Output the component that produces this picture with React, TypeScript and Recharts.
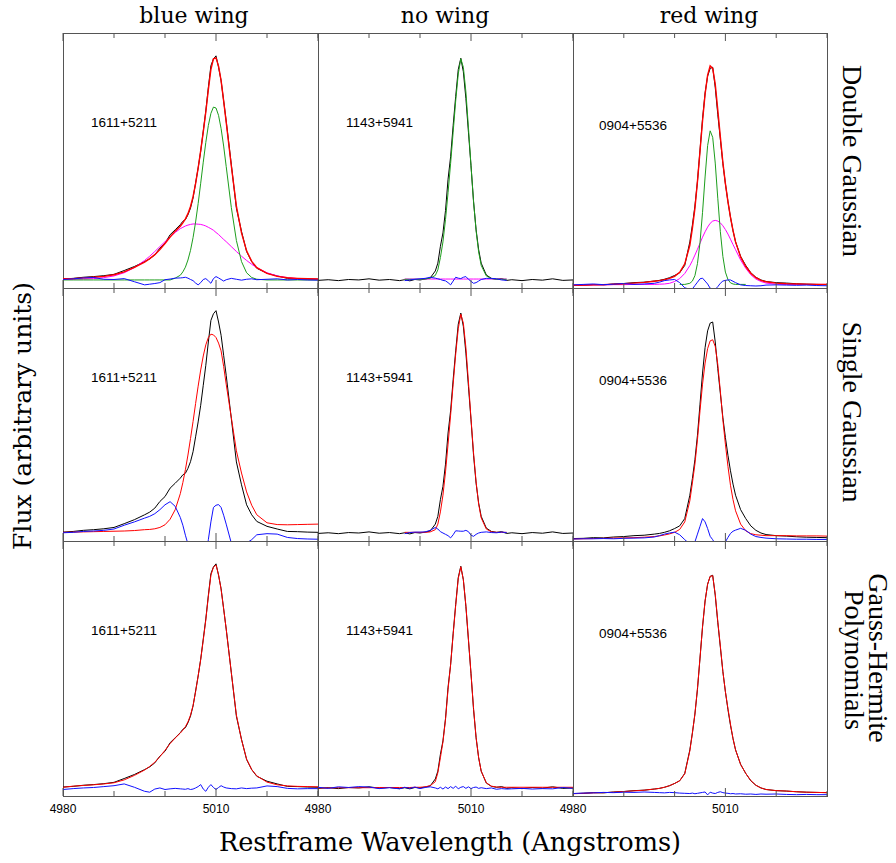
import React from 'react';
import { LineChart, Line, XAxis, YAxis } from 'recharts';

const N = null;

// wavelength grid (Angstroms), finer across the line core
const WAVE = [
  4980, 4982, 4984, 4986, 4988, 4990, 4992, 4994, 4996, 4997, 4998, 4999, 5000, 5001, 5002, 5003,
  5003.5, 5004, 5004.5, 5005, 5005.5, 5006, 5006.5, 5007, 5007.5, 5008, 5008.5, 5009, 5009.5, 5010,
  5010.5, 5011, 5011.5, 5012, 5013, 5014, 5015, 5016, 5017, 5018, 5020, 5022, 5024, 5026, 5028, 5030,
];
const X_TICKS = [4980, 4990, 5000, 5010, 5020, 5030];
const LABELED_TICKS = [4980, 5010];
const Y_DOMAIN = [-3.6, 110.3];

const COLUMN_TITLES = ['blue wing', 'no wing', 'red wing'];
const OBJECT_NAMES = ['1611+5211', '1143+5941', '0904+5536'];

// ---- 1611+5211 (blue wing) ----
const FLUX_1611 = [0.4, 0.7, 1.2, 1.5, 1.9, 2.5, 4.2, 6.0, 8.2, 9.4, 11.2, 14.2, 16.4, 20.2, 22.4, 24.7, 26.2, 26.9, 29.1, 32.1, 36.6, 43.3, 50.0, 57.5, 66.5, 75.5, 86.0, 95.7, 98.7, 100.1, 95.0, 89.0, 80.0, 71.0, 51.6, 32.0, 21.7, 12.7, 8.2, 5.2, 3.0, 1.8, 0.7, 0.6, 0.4, 0.3];
const DG_FIT_1611 = [0.5, 0.6, 0.9, 1.2, 1.6, 2.3, 3.6, 5.6, 8.0, 9.5, 11.3, 13.6, 16.3, 19.2, 21.8, 24.0, 25.5, 27.3, 29.6, 32.8, 37.2, 43.0, 50.0, 57.8, 66.0, 75.0, 85.0, 94.0, 98.8, 99.2, 95.5, 89.0, 80.0, 70.5, 51.0, 33.0, 21.0, 13.0, 8.3, 5.5, 2.9, 1.6, 1.0, 0.7, 0.5, 0.4];
const DG_NARROW_1611 = [0, 0, 0, 0, 0, 0, 0, 0, 0, 0, 0, 0, 0, 0, 0.8, 2.1, 3.6, 5.7, 8.9, 13.2, 18.9, 25.9, 34.1, 43.2, 52.6, 61.4, 69.0, 74.4, 77.2, 76.8, 73.5, 67.6, 59.8, 50.7, 32.4, 17.6, 8.2, 3.2, 1.1, 0.3, 0, 0, 0, 0, 0, 0];
const DG_BROAD_1611 = [0.3, 0.3, 0.4, 0.6, 1.0, 1.8, 3.2, 5.5, 8.7, 10.6, 12.7, 14.9, 17.1, 19.2, 21.2, 22.9, 23.5, 24.1, 24.5, 24.8, 25.0, 25.0, 24.9, 24.8, 24.5, 24.1, 23.5, 22.9, 22.2, 21.2, 20.3, 19.2, 18.1, 17.1, 14.9, 12.7, 10.6, 8.7, 7.0, 5.5, 3.2, 1.8, 1.0, 0.6, 0.4, 0.3];
const DG_RESID_1611 = [0.2, 0.5, 0.9, 1.1, 0.3, 0.2, 0.6, -0.8, -2.2, -1.9, -1.6, -1.2, 0.1, 0.4, 0.8, 0.9, 1.0, 1.2, 0.8, 0.2, -0.3, -1.4, -2.2, -1.2, 0.2, 0.6, -0.4, -1.5, 0.6, 1.5, 0.9, 0.2, -0.5, 0.1, 0.7, 0.3, -0.1, 0.3, 0.5, 0.1, 0.3, 0.5, 0.0, 0.2, 0.0, -0.1];
const SG_FIT_1611 = [0.3, 0.4, 0.5, 0.6, 0.7, 0.8, 0.9, 1.1, 1.5, 1.6, 1.9, 2.5, 3.7, 6.2, 10.5, 17.7, 22.7, 28.5, 35.1, 42.5, 50.2, 58.3, 66.1, 73.4, 79.7, 84.7, 88.0, 89.5, 89.2, 88.0, 85.5, 82.0, 75.0, 67.0, 52.0, 37.0, 27.0, 18.5, 12.5, 8.2, 4.6, 3.8, 3.7, 3.8, 3.9, 4.0];
const SG_RESID_1611 = [0.1, 0.3, 0.7, 0.9, 1.2, 1.8, 3.5, 5.0, 6.7, 7.5, 8.7, 10.5, 12.7, 14.1, 12.0, 7.0, 3.5, -1.0, -5, -10, -14, -15, -16, -16, -13, -10, -3, 5, 11.5, 12.5, 12.8, 11.5, 8, 4, -4.5, -7, -6, -4.5, -3, -0.8, -0.3, -0.5, -2.0, -2.5, -2.7, -2.8];
const GH_FIT_1611 = [0.3, 0.8, 1.1, 1.4, 1.8, 2.3, 3.6, 5.6, 8.0, 9.6, 11.5, 14.0, 16.8, 19.8, 22.3, 24.5, 25.8, 27.4, 29.5, 32.5, 36.8, 43.0, 50.0, 57.3, 66.0, 75.0, 85.5, 95.0, 98.6, 99.6, 95.2, 88.6, 80.0, 71.0, 51.5, 32.6, 21.5, 12.9, 8.2, 5.4, 2.6, 1.4, 0.9, 0.7, 0.6, 0.5];
const GH_RESID_1611 = [-0.7, -0.3, 0.0, 0.2, 0.6, 1.0, 1.8, 0.3, -1.5, -1.9, -0.5, 0.0, -0.7, -0.4, -0.2, -0.4, -0.5, -0.6, -0.3, -0.7, -0.5, 0.0, 0.6, 1.5, -0.5, -1.5, 0.3, 1.5, 0.2, -0.7, 0.2, 1.0, 0.4, 0.0, -0.3, -0.4, 0.0, -0.3, -0.1, 0.0, 0.9, 0.6, -0.2, -0.4, -0.3, -0.3];

// ---- 1143+5941 (no wing) ----
const FLUX_1143 = [-0.2, 0.1, -0.3, 0.2, 0.0, 0.5, -0.1, 0.2, -0.3, 0.1, -0.4, 0.2, 0.0, 0.4, 0.9, 4.0, 7.5, 15.0, 21.0, 31.0, 45.0, 55.0, 69.0, 82.0, 94.0, 99.0, 93.0, 81.0, 66.0, 51.0, 35.0, 22.4, 13.5, 7.5, 2.2, 0.7, 0.3, 0.6, -0.2, 0.1, -0.3, 0.2, -0.1, 0.5, -0.2, 0.0];
const DG_NARROW_1143 = [N, N, N, N, N, N, N, N, N, 0.3, 0.3, 0.3, 0.3, 0.4, 0.8, 2.0, 4.5, 10.0, 17.0, 27.0, 39.0, 52.0, 66.0, 80.0, 92.0, 98.8, 95.0, 84.0, 68.0, 51.0, 35.0, 22.0, 12.5, 6.5, 1.8, 0.6, 0.3, 0.3, 0.3, N, N, N, N, N, N, N];
const DG_BROAD_1143 = [N, N, N, N, N, N, N, N, N, 0.4, 0.4, 0.4, 0.4, 0.4, 0.4, 0.4, 0.4, 0.4, 0.4, 0.4, 0.4, 0.4, 0.4, 0.4, 0.4, 0.4, 0.4, 0.4, 0.4, 0.4, 0.4, 0.4, 0.4, 0.4, 0.4, 0.4, 0.4, 0.4, 0.4, N, N, N, N, N, N, N];
const DG_RESID_1143 = [N, N, N, N, N, N, N, N, N, -0.3, 0.0, 0.3, 0.5, 0.7, 1.2, 0.8, 0.5, 0.2, -0.2, -0.4, -1.2, -2.2, -0.5, 1.2, 0.8, 0.6, 1.2, 1.5, 0.3, -0.6, -1.5, -1.2, -0.5, 0.2, 0.7, 0.7, 0.5, 0.0, -0.2, N, N, N, N, N, N, N];
const SG_FIT_1143 = [N, N, N, N, N, N, N, N, N, 0.3, 0.3, 0.3, 0.3, 0.3, 0.5, 1.5, 4.0, 9.5, 17.0, 27.5, 40.0, 53.0, 67.0, 80.5, 92.0, 98.5, 94.5, 83.5, 68.0, 51.5, 36.0, 23.0, 13.0, 6.8, 1.8, 0.5, 0.3, 0.3, 0.3, N, N, N, N, N, N, N];
const SG_RESID_1143 = [N, N, N, N, N, N, N, N, N, -0.3, 0.2, 0.4, 0.4, 0.5, 1.2, 2.5, 1.8, 0.6, 0.0, -0.6, -1.2, -2.2, -0.8, 1.0, 0.9, 0.8, 0.8, 1.2, 0.6, -1.0, -1.5, -0.6, 0.0, 0.3, 0.5, 0.2, 0.1, 0.4, 0.2, N, N, N, N, N, N, N];
const GH_FIT_1143 = [0.0, 0.0, 0.1, 0.1, 0.1, 0.1, 0.2, 0.2, 0.2, 0.2, 0.2, 0.3, 0.3, 0.5, 1.0, 2.8, 6.8, 13.5, 20.5, 30.5, 44.0, 55.0, 68.5, 81.5, 93.5, 98.8, 93.0, 81.5, 66.5, 51.0, 35.5, 22.5, 13.5, 7.5, 2.3, 0.8, 0.4, 0.3, 0.3, 0.3, 0.3, 0.3, 0.3, 0.3, 0.3, 0.3];
const GH_RESID_1143 = [0.3, -0.2, 0.5, 0.2, 0.6, 0.4, -0.3, 0.1, -0.4, 0.3, -0.2, 0.4, -0.3, 0.2, 0.5, 0.0, -0.4, 0.3, -0.5, 0.4, -0.3, 0.6, -0.2, 0.8, -0.4, 0.3, 0.6, -0.2, 0.5, -0.3, 0.2, 0.4, -0.2, 0.1, -0.3, 0.0, -0.6, -0.3, -0.5, -0.4, -0.2, -0.5, -0.3, -0.4, 0.2, -0.2];

// ---- 0904+5536 (red wing) ----
const FLUX_0904 = [-2.5, -2.4, -2.1, -2.2, -1.8, -1.6, -1.2, -1.0, -0.5, -0.2, 0.3, 1.0, 2.0, 3.2, 6.5, 17.0, 24.5, 33.0, 44.0, 58.0, 72.0, 83.5, 91.0, 94.5, 95.0, 86.0, 74.0, 63.0, 52.0, 43.0, 35.0, 28.0, 22.0, 17.0, 10.5, 6.5, 3.2, 1.2, 0.0, -0.7, -1.2, -1.4, -1.7, -1.9, -2.0, -2.1];
const DG_FIT_0904 = [-2.4, -2.3, -2.2, -2.1, -1.9, -1.7, -1.4, -1.1, -0.6, -0.3, 0.1, 0.7, 1.6, 3.4, 7.2, 15.5, 23.0, 32.0, 44.0, 57.5, 71.0, 83.0, 91.5, 95.6, 94.5, 87.5, 76.0, 64.0, 52.5, 43.0, 35.0, 28.0, 22.0, 17.0, 10.2, 6.0, 3.0, 1.0, -0.2, -0.8, -1.4, -1.7, -1.8, -1.9, -2.0, -2.0];
const DG_NARROW_0904 = [N, N, N, N, N, N, N, N, N, N, N, N, N, -2.0, -2.0, -1.5, -0.5, 1.9, 7.3, 16.7, 30.2, 46.0, 60.0, 66.6, 63.7, 52.2, 36.5, 21.7, 10.5, 3.5, 0.2, -1.3, -1.8, -2.0, -2.0, -2.0, N, N, N, N, N, N, N, N, N, N];
const DG_BROAD_0904 = [-2.3, -2.3, -2.2, -2.2, -2.1, -2.1, -2.0, -2.0, -2.0, -1.9, -1.8, -1.5, -0.7, 0.6, 2.9, 6.4, 8.6, 11.1, 13.7, 16.4, 19.1, 21.5, 23.6, 25.3, 26.3, 26.6, 26.3, 25.5, 24.2, 22.5, 20.5, 18.2, 15.8, 13.5, 8.9, 5.2, 2.3, 0.4, -0.7, -1.4, -1.9, -2.0, -2.0, -2.0, -2.0, -2.0];
const DG_RESID_0904 = [-2.2, -2.0, -1.8, -2.1, -1.9, -1.6, -2.0, -1.8, -1.5, -1.0, -0.3, 0.0, 0.2, -1.2, -3.5, -4.2, -4.0, -2.5, -1.0, 0.5, 0.8, -0.5, -1.8, -3.7, -4.0, -4.2, -3.0, -1.5, -0.5, -0.2, 0.0, 0.0, -0.6, -1.2, -2.2, -2.5, -2.6, -2.7, -2.6, -2.3, -2.2, -2.3, -2.4, -2.3, -2.5, -2.6];
const SG_FIT_0904 = [-2.7, -2.6, -2.5, -2.4, -2.3, -2.2, -2.1, -1.9, -1.6, -1.3, -0.9, -0.4, 0.3, 1.6, 5.0, 14.5, 22.5, 31.0, 42.0, 55.0, 67.0, 76.5, 83.0, 86.5, 87.0, 84.0, 76.0, 64.0, 51.0, 40.0, 30.0, 21.5, 15.0, 10.0, 4.0, 1.0, -0.3, -0.8, -1.0, -1.2, -1.2, -1.2, -1.3, -1.3, -1.3, -1.4];
const SG_RESID_0904 = [-2.7, -2.6, -2.6, -2.5, -2.6, -2.4, -2.3, -2.2, -1.8, -1.2, -0.5, 0.0, 0.4, -0.8, -3.0, -5.0, -6.0, -4.0, -0.5, 3.0, 6.5, 5.0, 2.0, -1.5, -3.0, -5.0, -6.0, -6.0, -5.0, -4.0, -2.0, -0.2, 0.8, 1.3, 2.1, 1.2, -0.5, -1.6, -2.0, -2.3, -2.6, -2.7, -2.8, -2.8, -2.9, -2.9];
const GH_FIT_0904 = [-2.6, -2.4, -2.2, -2.1, -1.9, -1.6, -1.3, -1.0, -0.5, -0.2, 0.3, 1.0, 2.0, 3.2, 6.3, 16.5, 24.5, 33.0, 44.5, 58.0, 72.0, 83.5, 91.0, 94.5, 94.8, 86.5, 74.5, 63.5, 52.0, 43.0, 35.5, 28.5, 22.0, 17.0, 10.5, 6.5, 3.3, 1.2, 0.0, -0.7, -1.2, -1.4, -1.7, -1.9, -2.0, -2.1];
const GH_RESID_0904 = [-2.5, -2.3, -2.2, -2.0, -2.1, -1.9, -2.0, -1.8, -2.0, -2.1, -2.2, -2.0, -2.1, -2.3, -2.4, -2.5, -2.3, -2.6, -2.4, -2.2, -2.0, -1.8, -3.1, -1.9, -2.3, -2.5, -2.0, -1.7, -2.1, -2.3, -2.4, -2.6, -2.5, -2.7, -2.6, -2.8, -2.7, -2.9, -2.7, -2.8, -2.7, -2.9, -3.0, -2.9, -3.0, -3.0];

const C_DATA = '#000000';
const C_FIT = '#ff0000';
const C_NARROW = '#1d9e1d';
const C_BROAD = '#ff00ff';
const C_RESID = '#1010ff';

type Series = { values: (number | null)[]; color: string; width?: number };

// rows: double gaussian, single gaussian, gauss-hermite; cols: blue, no, red wing
const PANELS: Series[][][] = [
  [
    [
      { values: FLUX_1611, color: C_DATA },
      { values: DG_BROAD_1611, color: C_BROAD },
      { values: DG_NARROW_1611, color: C_NARROW },
      { values: DG_FIT_1611, color: C_FIT, width: 1.4 },
      { values: DG_RESID_1611, color: C_RESID },
    ],
    [
      { values: FLUX_1143, color: C_DATA },
      { values: DG_BROAD_1143, color: C_BROAD },
      { values: DG_NARROW_1143, color: C_NARROW },
      { values: DG_RESID_1143, color: C_RESID },
    ],
    [
      { values: FLUX_0904, color: C_DATA },
      { values: DG_BROAD_0904, color: C_BROAD },
      { values: DG_NARROW_0904, color: C_NARROW },
      { values: DG_FIT_0904, color: C_FIT, width: 1.4 },
      { values: DG_RESID_0904, color: C_RESID },
    ],
  ],
  [
    [
      { values: FLUX_1611, color: C_DATA },
      { values: SG_FIT_1611, color: C_FIT },
      { values: SG_RESID_1611, color: C_RESID },
    ],
    [
      { values: FLUX_1143, color: C_DATA },
      { values: SG_FIT_1143, color: C_FIT },
      { values: SG_RESID_1143, color: C_RESID },
    ],
    [
      { values: FLUX_0904, color: C_DATA },
      { values: SG_FIT_0904, color: C_FIT },
      { values: SG_RESID_0904, color: C_RESID },
    ],
  ],
  [
    [
      { values: FLUX_1611, color: C_DATA },
      { values: GH_FIT_1611, color: C_FIT },
      { values: GH_RESID_1611, color: C_RESID },
    ],
    [
      { values: FLUX_1143, color: C_DATA },
      { values: GH_FIT_1143, color: C_FIT },
      { values: GH_RESID_1143, color: C_RESID },
    ],
    [
      { values: FLUX_0904, color: C_DATA },
      { values: GH_FIT_0904, color: C_FIT },
      { values: GH_RESID_0904, color: C_RESID },
    ],
  ],
];

const COL_X = [63, 318, 573];
const COL_W = [255, 255, 254];
const ROW_Y = [33, 288, 541];
const ROW_H = [255, 253, 255];
const PAD = 16; // room either side of a plot for the tick labels
const LABEL_PAD = 24;
const TOP_AXIS = 1;

const SANS = "'Liberation Sans', Arial, sans-serif";
const SERIF = "'DejaVu Serif', serif";
const TIMES = "'Liberation Serif', 'Times New Roman', serif";

const makeTick = (side: 'top' | 'bottom', labels: boolean) => (props: any) => {
  const { x, y, payload } = props;
  const major = LABELED_TICKS.includes(payload.value);
  const len = major ? 8 : 5;
  const dir = side === 'bottom' ? -1 : 1;
  return (
    <g>
      <line x1={x} x2={x} y1={y} y2={y + dir * len} stroke="#555" strokeWidth={1} />
      {labels && major ? (
        <text x={x} y={y + 17} textAnchor="middle" fontSize={12} fontFamily={SANS} fill="#000">
          {payload.value}
        </text>
      ) : null}
    </g>
  );
};

function Panel({ row, col }: { row: number; col: number }) {
  const series = PANELS[row][col];
  const data = WAVE.map((w, i) => {
    const r: Record<string, number | null> = { w };
    series.forEach((s, j) => {
      r['s' + j] = s.values[i];
    });
    return r;
  });
  const w = COL_W[col];
  const h = ROW_H[row];
  return (
    <div style={{ position: 'absolute', left: COL_X[col] - PAD, top: ROW_Y[row] - TOP_AXIS }}>
      <LineChart
        width={w + PAD * 2}
        height={h + LABEL_PAD + TOP_AXIS}
        data={data}
        margin={{ top: 0, right: PAD, left: PAD, bottom: 0 }}
      >
        <XAxis
          dataKey="w"
          type="number"
          domain={[4980, 5030]}
          ticks={X_TICKS}
          interval={0}
          allowDataOverflow
          height={LABEL_PAD}
          tickSize={0}
          tickMargin={0}
          axisLine={false}
          tickLine={false}
          tick={makeTick('bottom', row === 2)}
        />
        <XAxis
          xAxisId="top"
          orientation="top"
          dataKey="w"
          type="number"
          domain={[4980, 5030]}
          ticks={X_TICKS}
          interval={0}
          allowDataOverflow
          height={TOP_AXIS}
          tickSize={0}
          tickMargin={0}
          axisLine={false}
          tickLine={false}
          tick={makeTick('top', false)}
        />
        <YAxis hide domain={Y_DOMAIN} allowDataOverflow type="number" />
        {series.map((s, j) => (
          <Line
            key={j}
            dataKey={'s' + j}
            type="linear"
            stroke={s.color}
            strokeWidth={s.width ?? 1}
            dot={false}
            connectNulls={false}
            isAnimationActive={false}
          />
        ))}
      </LineChart>
    </div>
  );
}

export default function App() {
  const cells: { row: number; col: number }[] = [];
  for (let r = 0; r < 3; r++) for (let c = 0; c < 3; c++) cells.push({ row: r, col: c });

  return (
    <div style={{ position: 'absolute', left: 0, top: 0, width: 896, height: 863, background: '#fff', overflow: 'hidden' }}>
      {cells.map(({ row, col }) => (
        <div
          key={`b-${row}-${col}`}
          style={{
            position: 'absolute',
            left: COL_X[col],
            top: ROW_Y[row],
            width: COL_W[col] + 1,
            height: ROW_H[row] + 1,
            border: '1px solid #555',
            boxSizing: 'border-box',
          }}
        />
      ))}
      {cells.map(({ row, col }) => (
        <Panel key={`p-${row}-${col}`} row={row} col={col} />
      ))}

      <svg width={896} height={863} style={{ position: 'absolute', left: 0, top: 0, pointerEvents: 'none' }}>
        {/* column titles */}
        {COLUMN_TITLES.map((t, i) => (
          <text key={t} x={[194, 445, 709][i]} y={23} textAnchor="middle" fontFamily={SERIF} fontSize={22} fill="#000">
            {t}
          </text>
        ))}
        {/* object names in each panel */}
        {cells.map(({ row, col }) => (
          <text
            key={`o-${row}-${col}`}
            x={COL_X[col] + (col === 2 ? 26 : 28)}
            y={ROW_Y[row] + (col === 2 ? 97 : 94)}
            fontFamily={SANS}
            fontSize={13.5}
            fill="#000"
          >
            {OBJECT_NAMES[col]}
          </text>
        ))}
        {/* row titles */}
        <text transform="translate(843,161) rotate(90)" textAnchor="middle" fontFamily={TIMES} fontSize={28} fill="#000">
          Double Gaussian
        </text>
        <text transform="translate(843,412) rotate(90)" textAnchor="middle" fontFamily={TIMES} fontSize={28} fill="#000">
          Single Gaussian
        </text>
        <text transform="translate(869,658) rotate(90)" textAnchor="middle" fontFamily={TIMES} fontSize={28} fill="#000">
          Gauss-Hermite
        </text>
        <text transform="translate(845,660) rotate(90)" textAnchor="middle" fontFamily={TIMES} fontSize={28} fill="#000">
          Polynomials
        </text>
        {/* axis titles */}
        <text transform="translate(31,416) rotate(-90)" textAnchor="middle" fontFamily={SERIF} fontSize={25} fill="#000">
          Flux (arbitrary units)
        </text>
        <text x={450} y={851} textAnchor="middle" fontFamily={SERIF} fontSize={25.6} fill="#000">
          Restframe Wavelength (Angstroms)
        </text>
      </svg>
    </div>
  );
}
